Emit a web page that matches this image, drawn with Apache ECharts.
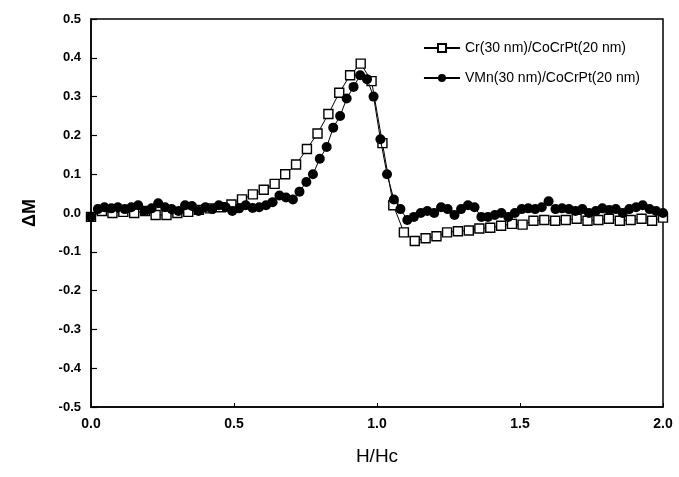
<!DOCTYPE html>
<html><head><meta charset="utf-8">
<script src="https://cdn.jsdelivr.net/npm/echarts@6/dist/echarts.min.js"></script>
<style>html,body{margin:0;padding:0;background:#fff}#c{width:679px;height:477px}</style>
</head><body><div id="c"></div>
<script>
const crH = [0,0.038,0.075,0.113,0.151,0.189,0.226,0.264,0.302,0.340,0.377,0.415,0.453,0.491,0.528,0.566,0.604,0.642,0.679,0.717,0.755,0.792,0.830,0.868,0.906,0.943,0.981,1.019,1.057,1.094,1.132,1.170,1.208,1.245,1.283,1.321,1.358,1.396,1.434,1.472,1.509,1.547,1.585,1.623,1.660,1.698,1.736,1.774,1.811,1.849,1.887,1.925,1.962,2.000];
const crM = [-0.01,0.005,0.0,0.003,0.0,0.005,-0.005,-0.005,0.0,0.003,0.008,0.012,0.015,0.022,0.035,0.048,0.06,0.075,0.1,0.125,0.165,0.205,0.255,0.31,0.355,0.385,0.34,0.18,0.02,-0.05,-0.072,-0.065,-0.06,-0.05,-0.047,-0.045,-0.04,-0.038,-0.033,-0.028,-0.03,-0.02,-0.018,-0.02,-0.018,-0.015,-0.02,-0.018,-0.015,-0.02,-0.018,-0.015,-0.02,-0.012];
const vmH = [0,0.024,0.047,0.071,0.094,0.118,0.141,0.165,0.188,0.212,0.235,0.259,0.282,0.306,0.329,0.353,0.376,0.4,0.424,0.447,0.471,0.494,0.518,0.541,0.565,0.588,0.612,0.635,0.659,0.682,0.706,0.729,0.753,0.776,0.8,0.824,0.847,0.871,0.894,0.918,0.941,0.965,0.988,1.012,1.035,1.059,1.082,1.106,1.129,1.153,1.176,1.2,1.224,1.247,1.271,1.294,1.318,1.341,1.365,1.388,1.412,1.435,1.459,1.482,1.506,1.529,1.553,1.576,1.6,1.624,1.647,1.671,1.694,1.718,1.741,1.765,1.788,1.812,1.835,1.859,1.882,1.906,1.929,1.953,1.976,2.0];
const vmM = [-0.01,0.01,0.015,0.012,0.015,0.01,0.015,0.02,0.005,0.012,0.025,0.015,0.01,0.005,0.02,0.018,0.005,0.015,0.01,0.02,0.015,0.005,0.012,0.02,0.013,0.015,0.02,0.028,0.045,0.04,0.035,0.055,0.08,0.1,0.14,0.17,0.22,0.25,0.295,0.325,0.355,0.345,0.3,0.19,0.1,0.035,0.01,-0.018,-0.01,0.0,0.005,0.0,0.015,0.01,-0.005,0.01,0.02,0.015,-0.01,-0.01,-0.005,0.0,-0.01,0.0,0.01,0.012,0.01,0.015,0.03,0.01,0.012,0.01,0.005,0.01,0.0,0.005,0.012,0.008,0.01,0.0,0.01,0.015,0.02,0.01,0.005,0.0];
const seriesNames = ['Cr(30 nm)/CoCrPt(20 nm)','VMn(30 nm)/CoCrPt(20 nm)'];
const xTitle = 'H/Hc', yTitle = '\u0394M';

const chart = echarts.init(document.getElementById('c'), null, {renderer:'canvas'});
const font = 'Liberation Sans, Arial, sans-serif';
chart.setOption({
  animation:false,
  backgroundColor:'#fff',
  grid:{left:91,right:16,top:19,bottom:70,show:true,borderColor:'#000',borderWidth:1.5},
  legend:{
    right:34, top:36, orient:'vertical', itemGap:16, itemWidth:36, itemHeight:10,
    textStyle:{fontFamily:font,fontSize:14,color:'#000'},
    data:seriesNames
  },
  xAxis:{
    type:'value', min:0, max:2, interval:0.5,
    name:xTitle, nameLocation:'middle', nameGap:40,
    nameTextStyle:{fontFamily:font,fontSize:19,color:'#000'},
    axisLine:{onZero:false,lineStyle:{color:'#000',width:1.5}},
    axisTick:{show:true,inside:true,length:4,lineStyle:{color:'#000'}},
    axisLabel:{fontFamily:font,fontSize:14,fontWeight:'bold',color:'#000',formatter:v=>v.toFixed(1),margin:10},
    splitLine:{show:false}
  },
  yAxis:{
    type:'value', min:-0.5, max:0.5, interval:0.1,
    name:yTitle, nameLocation:'middle', nameGap:52, nameRotate:90,
    nameTextStyle:{fontFamily:font,fontSize:18,fontWeight:'bold',color:'#000'},
    axisLine:{onZero:false,lineStyle:{color:'#000',width:1.5}},
    axisTick:{show:true,inside:true,length:6,lineStyle:{color:'#000',width:1.2}},
    axisLabel:{fontFamily:font,fontSize:13,fontWeight:'bold',color:'#000',formatter:v=>v.toFixed(1),margin:10},
    splitLine:{show:false}
  },
  series:[
    {
      name:seriesNames[0], type:'line',
      data:crH.map((h,i)=>[h,crM[i]]),
      symbol:'rect', symbolSize:9,
      lineStyle:{color:'#000',width:1},
      itemStyle:{color:'#fff',borderColor:'#000',borderWidth:1.4},
      z:2
    },
    {
      name:seriesNames[1], type:'line',
      data:vmH.map((h,i)=>[h,vmM[i]]),
      symbol:'circle', symbolSize:10,
      lineStyle:{color:'#000',width:1},
      itemStyle:{color:'#000',borderColor:'#000',borderWidth:0},
      z:3
    }
  ]
});
</script></body></html>
